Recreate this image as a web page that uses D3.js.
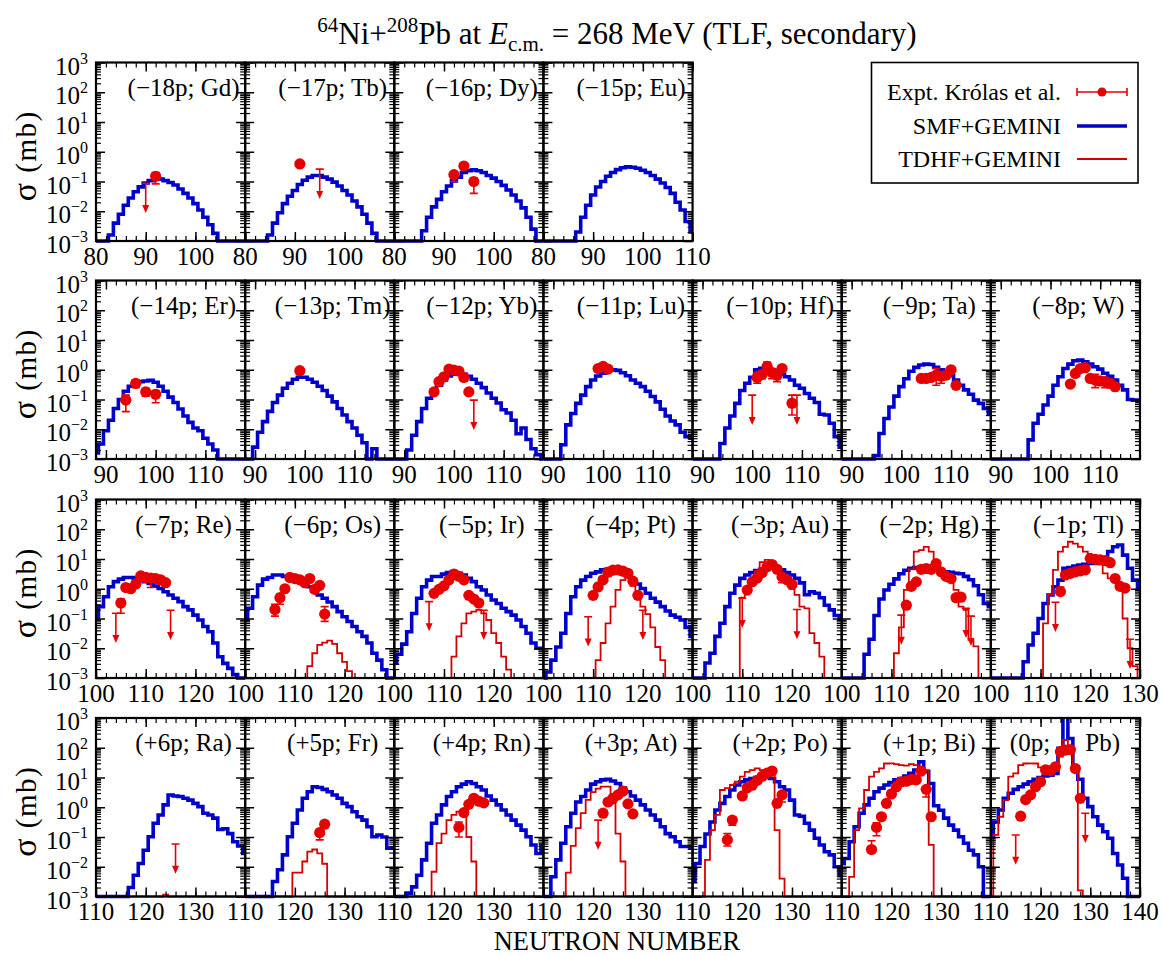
<!DOCTYPE html>
<html><head><meta charset="utf-8">
<script src="https://cdn.jsdelivr.net/npm/d3@7"></script>
<style>
body{margin:0;background:#fff}
svg{display:block}
text{font-family:"Liberation Serif","Times New Roman",serif;fill:#000}
</style></head>
<body><svg id="c" width="1166" height="956"></svg>
<script>
// ---------------- DATA ----------------
const labels = ["(−18p; Gd)","(−17p; Tb)","(−16p; Dy)","(−15p; Eu)",
  "(−14p; Er)","(−13p; Tm)","(−12p; Yb)","(−11p; Lu)","(−10p; Hf)","(−9p; Ta)","(−8p; W)",
  "(−7p; Re)","(−6p; Os)","(−5p; Ir)","(−4p; Pt)","(−3p; Au)","(−2p; Hg)","(−1p; Tl)",
  "(+6p; Ra)","(+5p; Fr)","(+4p; Rn)","(+3p; At)","(+2p; Po)","(+1p; Bi)","(0p;|Pb)"];
const rowDomains = [[80,110],[88,118],[100,130],[110,140]];
const xTicks = [[80,90,100,110],[90,100,110],[100,110,120,130],[110,120,130,140]];
const yTicks = [1e-3,1e-2,1e-1,1,10,100,1000];
const yExp = ["−3","−2","−1","0","1","2","3"];

// SMF+GEMINI histograms (mb), first neutron number then one value per N
const smfStart = [83,85,86,87, 88,90,91,92,94,95,96, 100,100,100,101,103,105,107, 117,116,113,112,110,110,110];
const smf = [
 [1.6e-3,4.0e-3,7.9e-3,0.016,0.028,0.045,0.066,0.089,0.107,0.12,0.12,0.107,0.093,0.076,0.056,0.04,0.028,0.018,0.011,6.3e-3,3.5e-3,1.8e-3],
 [1.6e-3,4.0e-3,8.9e-3,0.018,0.032,0.05,0.079,0.11,0.14,0.16,0.16,0.14,0.12,0.095,0.071,0.05,0.035,0.022,0.014,7.9e-3,4.0e-3,1.8e-3],
 [2.2e-3,6.3e-3,0.014,0.025,0.045,0.071,0.105,0.14,0.2,0.23,0.245,0.23,0.2,0.16,0.13,0.10,0.074,0.052,0.035,0.022,0.013,6.3e-3,2.5e-3],
 [2.0e-3,6.3e-3,0.016,0.035,0.065,0.1,0.15,0.2,0.25,0.29,0.31,0.3,0.28,0.24,0.2,0.16,0.12,0.089,0.063,0.04,0.02,0.011,4.5e-3,2.0e-3],
 [1.6e-3,3.2e-3,8.9e-3,0.02,0.05,0.1,0.19,0.28,0.35,0.4,0.42,0.44,0.38,0.28,0.19,0.12,0.079,0.048,0.028,0.017,0.011,8.9e-3,5.0e-3,3.2e-3,2.0e-3],
 [2.5e-3,7.9e-3,0.018,0.04,0.079,0.14,0.24,0.35,0.48,0.56,0.56,0.48,0.38,0.28,0.2,0.13,0.083,0.05,0.03,0.018,0.011,6.3e-3,3.5e-3,0,2.2e-3],
 [2.0e-3,6.3e-3,0.018,0.05,0.11,0.21,0.30,0.45,0.62,0.71,0.76,0.71,0.6,0.48,0.35,0.25,0.166,0.11,0.076,0.045,0.035,0.02,7.1e-3,0.011,4.5e-3,2.2e-3,1.4e-3],
 [3.0e-3,0.014,0.034,0.074,0.14,0.27,0.45,0.62,0.76,0.93,1.0,0.95,0.79,0.63,0.45,0.35,0.27,0.19,0.126,0.083,0.047,0.028,0.019,0.014,7.9e-3,5.6e-3,5.0e-3],
 [3.3e-3,0.011,0.028,0.074,0.2,0.35,0.56,1.0,1.12,1.12,1.0,0.89,0.71,0.58,0.45,0.3,0.24,0.16,0.11,0.079,0.032,0.03,0.016,5.6e-3,2.5e-3],
 [1.3e-3,7.2e-3,0.023,0.056,0.13,0.27,0.5,0.89,1.2,1.45,1.55,1.5,1.2,1.0,0.89,0.63,0.45,0.3,0.21,0.15,0.095,0.074,0.05,0.032],
 [4.4e-3,0.016,0.032,0.065,0.13,0.3,0.58,1.1,1.55,2.0,2.1,1.86,1.55,1.26,1.05,0.76,0.6,0.45,0.3,0.21,0.1,0.095,0.089],
 [0.1,0.25,0.54,1.17,1.74,2.1,2.4,2.4,2.24,2.0,1.74,1.5,1.23,1.02,0.79,0.62,0.48,0.37,0.25,0.195,0.13,0.089,0.054,0.036,0.015,5.2e-3,3.1e-3,2.1e-3,1.3e-3],
 [0.089,0.22,0.54,1.32,2.1,2.4,2.9,2.9,2.6,2.6,2.0,1.78,1.45,1.17,0.83,0.62,0.48,0.36,0.25,0.17,0.115,0.079,0.054,0.036,0.025,0.015,6.8e-3,4.0e-3,1.9e-3],
 [3.2e-3,6.3e-3,0.0138,0.036,0.148,0.48,1.17,1.95,2.57,2.57,3.1,3.5,3.8,3.3,2.9,2.24,1.74,1.17,0.91,0.62,0.42,0.32,0.22,0.17,0.13,0.089,0.054,0.032,0.015,0.01,0.01],
 [1.6e-3,4.0e-3,0.011,0.032,0.148,0.54,1.17,1.95,2.57,3.3,3.7,4.3,4.5,4.3,3.7,3.3,2.57,1.95,1.45,1.02,0.71,0.48,0.355,0.25,0.178,0.13,0.11,0.089,0.05,0.025],
 [3.2e-3,6.8e-3,0.025,0.069,0.25,0.71,1.32,2.24,2.9,3.5,4.1,4.5,4.9,5.0,5.2,4.3,3.5,2.9,2.24,1.58,0.63,0.79,0.71,0.5,0.28,0.195,0.126,0.1],
 [6.3e-3,0.02,0.126,0.45,0.91,1.41,2.14,3.2,4.2,4.9,5.2,5.5,5.4,5.0,4.6,4.2,3.7,3.55,3.3,3.2,2.6,2.0,1.26,0.63,0.32,0.25],
 [3.5e-3,0.0129,0.032,0.1,0.32,0.62,1.17,1.95,4.9,5.2,5.75,6.3,6.6,7.1,7.1,7.4,9.3,17.8,25.7,29.5,13.5,4.9,1.95,1.0],
 [2.0e-3,5.2e-3,0.0129,0.036,0.102,0.29,0.55,1.2,2.57,2.4,2.3,2.0,1.74,1.35,1.05,0.63,0.55,0.43,0.178,0.19,0.13,0.069,0.05,0.028],
 [3.2e-3,7.9e-3,0.025,0.102,0.29,0.81,2.0,3.3,4.9,4.6,4.0,3.3,2.57,2.0,1.35,1.05,0.71,0.48,0.37,0.22,0.102,0.117,0.1,0.042,0.042],
 [1.3e-3,2.1e-3,5.2e-3,0.017,0.062,0.29,0.55,1.2,2.3,3.3,4.9,6.0,7.2,6.3,4.9,3.8,2.4,1.74,1.2,0.81,0.55,0.37,0.25,0.17,0.102,0.054,0.028,0.054],
 [4.6e-3,0.017,0.062,0.22,0.63,1.5,2.3,3.8,6.0,7.2,8.3,8.7,7.6,6.3,4.4,3.3,2.4,1.74,1.2,0.81,0.55,0.37,0.22,0.13,0.102,0.069,0.048,0.048,0.045],
 [3.2e-3,0.0129,0.048,0.126,0.32,0.81,1.35,2.3,3.8,5.6,7.2,8.3,9.3,10,10,10,9.3,7.2,4.9,3.8,1.74,0.55,0.5,0.29,0.17,0.091,0.054,0.032,0.025,0.01,5.0e-3],
 [0.0126,0.019,0.069,0.22,0.63,1.2,2.0,3.3,4.4,5.6,6.8,8.3,9.3,11.2,13.8,17.8,34,15.8,6.3,1.12,0.79,0.43,0.25,0.17,0.102,0.062,0.036,0.025,0.01],
 [0.102,0.32,0.81,2.0,2.95,4.0,4.9,6.0,7.2,8.7,10,11.2,12,13.8,95,3000,204,23,8.7,2.0,1.05,0.48,0.25,0.15,0.091,0.028,0.0115,4.1e-3]
];

// TDHF+GEMINI histograms (mb); null = not shown
const tdhfStart = [0,0,0,0, 0,0,0,0,0,0,0, 100,113,112,111,110,111,111, 124,120,118,115,113,112,111];
const tdhf = [null,null,null,null, null,null,null,null,null,null,null,
 [],
 [2.5e-3,6.8e-3,0.013,0.0155,0.018,0.014,6.8e-3,3.5e-3,1.7e-3],
 [5.2e-3,0.025,0.069,0.148,0.17,0.195,0.148,0.089,0.032,0.015,5.2e-3,1.9e-3],
 [4.0e-3,0.015,0.069,0.25,0.91,1.95,2.5,1.26,0.5,0.25,0.14,0.05,0.011,4.0e-3],
 [0.5,1.0,2.0,4.0,7.9,9.3,7.1,4.9,2.57,1.74,1.0,0.62,0.25,0.22,0.032,0.015,5.2e-3],
 [6.8e-3,0.05,0.91,4.5,17.8,20,25.7,17.8,8.9,3.7,2.9,1.78,0.91,0.25,0.195,0.019,0.0115],
 [0.069,0.63,4.3,17.8,25.7,38,33,25.7,17.8,12,8.1,7.1,3.3,2.24,2.0,0.91,0.1,0.01,2.5e-3],
 [1.15e-3],
 [6.3e-3,6.3e-3,0.015,0.032,0.038,0.028,0.0126],
 [6.8e-3,0.062,0.13,0.37,0.55,0.71,0.81,0.1,0.015],
 [6.3e-3,0.05,0.2,0.63,1.78,3.2,4.2,4.9,4.9,1.35,0.13,0.015],
 [0.017,0.17,0.55,3.8,4.4,5.6,7.2,10.7,15.5,17.8,20.4,17.8,12.6,14.1,0.17,4.0e-3],
 [4.6e-3,0.17,0.91,3.8,10.7,15.5,20.4,29.5,30,28,26,25,28,26,20,17.8,0.054],
 [0.117,0.48,1.74,10.7,13.8,26,29.5,30,29.5,22,17.8,16.6,22.4,50,182,100,17.8,1.6e-3]
];

// Experiment (Krolas et al.): [N, sigma, errLow, errHigh]
const expt = [
 [[92,0.15,0.083,0.2]],
 [[91,0.39]],
 [[92,0.17,0.1,0.2],[94,0.33,0.3,0.36],[96,0.1,0.04,0.13]],
 [],
 [[94,0.095,0.039,0.14],[96,0.35,0.25,0.45],[98,0.18,0.13,0.24],[100,0.15,0.078,0.2]],
 [[99,0.93]],
 [[96,0.18,0.14,0.22],[97,0.4,0.3,0.5],[98,0.58,0.45,0.7],[99,1.05,0.9,1.2],[100,0.97,0.8,1.1],[101,0.9,0.75,1.05],[102,0.55,0.42,0.7],[103,0.18,0.15,0.21]],
 [[99,1.1,0.95,1.25],[100,1.3,1.15,1.45],[101,1.05,0.9,1.2]],
 [[101,0.55,0.35,0.8],[102,0.7,0.5,0.9],[103,1.3,0.9,1.8],[104,0.8,0.5,1.1],[105,0.65,0.4,0.9],[106,1.1,0.95,1.25],[108,0.075,0.03,0.14]],
 [[104,0.51,0.4,0.62],[105,0.51,0.4,0.62],[106,0.55,0.45,0.7],[107,0.66,0.3,1.1],[108,0.6,0.35,0.85],[109,0.66,0.5,0.8],[110,1.0,0.85,1.15],[111,0.3,0.25,0.35]],
 [[104,0.33,0.28,0.4],[105,0.75,0.6,0.9],[106,1.1,0.9,1.3],[107,1.17,1.0,1.35],[108,0.51,0.4,0.62],[109,0.45,0.25,0.7],[110,0.42,0.3,0.55],[111,0.4,0.25,0.55],[112,0.35,0.25,0.45],[113,0.27,0.2,0.34]],
 [[105,0.33,0.15,0.45],[106,1.1,0.95,1.3],[107,1.0,0.85,1.2],[108,1.45,1.2,1.7],[109,2.7,2.3,3.1],[110,2.4,2.0,2.8],[111,2.3,1.1,3.0],[112,2.2,1.8,2.6],[113,2.0,1.7,2.3],[114,1.6,1.4,1.8]],
 [[106,0.2,0.12,0.3],[107,0.5,0.3,0.65],[108,1.0,0.85,1.15],[109,2.4,2.1,2.7],[110,2.2,1.9,2.5],[111,2.0,1.7,2.3],[112,1.6,1.3,1.9],[113,2.2,1.9,2.5],[114,0.95,0.8,1.1],[115,1.3,1.1,1.5],[116,0.14,0.08,0.25]],
 [[108,0.7,0.6,0.8],[109,0.95,0.8,1.1],[110,1.25,1.05,1.45],[111,2.0,1.7,2.3],[112,3.1,2.7,3.5],[113,2.6,2.2,3.0],[114,2.0,1.7,2.3],[115,0.6,0.5,0.7],[116,0.45,0.38,0.52],[117,0.33,0.28,0.38]],
 [[110,0.6,0.5,0.7],[111,1.15,1.0,1.3],[112,2.0,1.8,2.2],[113,3.6,3.2,4.0],[114,4.2,3.8,4.6],[115,4.3,3.9,4.7],[116,3.9,3.5,4.3],[117,3.3,2.9,3.7],[118,1.8,1.5,2.1],[119,0.6,0.5,0.7]],
 [[111,0.9,0.75,1.05],[112,1.7,1.5,1.9],[113,2.3,2.0,2.6],[114,3.5,3.1,3.9],[115,5.5,4.8,6.2],[116,6.5,5.7,7.3],[117,4.5,3.9,5.1],[118,2.5,1.6,2.9],[119,2.0,1.7,2.3],[120,1.4,1.2,1.6]],
 [[113,0.28,0.22,0.34],[114,1.2,1.0,1.4],[115,1.7,1.45,1.95],[116,4.5,4.0,5.0],[117,4.8,4.2,5.4],[118,4.5,4.0,5.0],[119,7.0,6.2,7.8],[120,3.7,3.3,4.1],[121,2.6,2.3,2.9],[122,2.2,1.9,2.5],[123,0.5,0.43,0.57],[124,0.52,0.45,0.6]],
 [[114,0.8,0.7,1.15],[115,2.9,2.6,3.2],[116,3.3,3.0,3.6],[117,3.7,3.3,4.1],[118,4.0,3.6,4.4],[119,4.3,3.9,4.7],[120,10.5,9.5,11.5],[121,9.7,8.8,10.6],[122,9.3,8.4,10.2],[123,8.8,8.0,9.6],[124,7.5,6.8,8.2],[125,2.2,1.9,2.5],[126,1.2,1.05,1.35],[127,1.05,0.9,1.2]],
 [],
 [[125,0.14,0.08,0.18],[126,0.27,0.23,0.31]],
 [[123,0.21,0.1,0.32],[124,0.66,0.55,0.77],[125,1.25,1.05,1.45],[126,2.0,1.7,2.3],[127,1.6,1.4,1.8],[128,1.4,1.2,1.6]],
 [[122,0.63,0.55,0.72],[123,1.5,1.3,1.7],[124,2.0,1.8,2.2],[125,2.6,2.3,2.9],[126,3.5,3.1,3.9],[127,1.3,1.1,1.5],[128,0.6,0.5,0.7]],
 [[117,0.08,0.05,0.13],[118,0.37,0.25,0.45],[120,2.4,2.1,2.7],[121,4.5,4.0,5.0],[122,5.5,4.9,6.1],[123,8.0,7.2,8.8],[124,11,10,12],[125,14,12.5,15.5],[126,16.5,15,18],[127,1.35,1.2,1.5],[128,2.6,1.5,2.9]],
 [[116,0.038,0.03,0.075],[117,0.21,0.11,0.3],[118,0.48,0.4,0.56],[119,1.35,1.2,1.5],[120,2.8,2.5,3.1],[121,4.9,4.4,5.4],[122,7.2,6.5,7.9],[123,7.5,6.8,8.2],[124,8.6,7.8,9.4],[125,8.3,7.5,9.1],[126,16.5,15,18],[127,4.0,2.2,4.6],[128,0.48,0.42,0.54]],
 [[116,0.5,0.42,0.58],[117,1.8,1.6,2.0],[118,2.6,2.3,2.9],[119,4.9,4.4,5.4],[120,7.2,6.5,7.9],[121,18,16,20],[122,17,15,19],[123,23,20.5,25.5],[124,74,66,82],[125,83,74,92],[126,87,78,96],[127,20,18,22],[128,2.0,1.8,2.2]]
];

// Experimental upper limits: [N, sigma]
const upperLimits = [
 [[90,0.087]],[[95,0.26]],[],[],
 [],[],[[104,0.095]],[],[[100,0.14],[109,0.14]],[],[],
 [[104,0.15],[115,0.19]],[],[[107,0.37],[118,0.19]],[[109,0.115],[120,0.19]],[[110,0.48],[121,0.2]],[[112,0.13],[125,0.22],[126,0.12]],[[113,0.35],[128,0.02]],
 [[126,0.058]],[],[],[[121,0.37]],[],[],[[115,0.117],[129,0.63]]
];

// ---------------- LAYOUT ----------------
const rowCounts = [4,7,7,7];
const rowTop = [62.5,280.5,499.5,718];
const panelW = 149.14, plotH = 178.5, left0 = 96;
const BLUE = "#0000cc", RED = "#d40000", PT = "#e60000";
const svg = d3.select("#c");
const defs = svg.append("defs");

// title
const title = svg.append("text").attr("x",617).attr("y",44).attr("text-anchor","middle").attr("font-size",31);
title.append("tspan").attr("font-size",21).attr("dy",-12).text("64");
title.append("tspan").attr("dy",12).text("Ni+");
title.append("tspan").attr("font-size",21).attr("dy",-12).text("208");
title.append("tspan").attr("dy",12).text("Pb at ");
title.append("tspan").attr("font-style","italic").text("E");
title.append("tspan").attr("font-size",21).attr("dy",7).text("c.m.");
title.append("tspan").attr("dy",-7).text(" = 268 MeV (TLF, secondary)");

// x label
svg.append("text").attr("x",617).attr("y",950).attr("text-anchor","middle").attr("font-size",26.5).text("NEUTRON NUMBER");

let p = 0;
rowCounts.forEach((nc, row) => {
  const top = rowTop[row];
  const dom = rowDomains[row];
  const y = d3.scaleLog().domain([1e-3,1e3]).range([top+plotH, top]);
  // y label
  const yl = svg.append("text").attr("transform",`translate(36,${top+plotH/2+4}) rotate(-90)`)
    .attr("text-anchor","middle").attr("font-size",29).attr("letter-spacing",1.5);
  yl.append("tspan").attr("font-size",34).text("σ");
  yl.append("tspan").text(" (mb)");
  for (let c = 0; c < nc; c++, p++) {
    const x0 = left0 + c*panelW;
    const x = d3.scaleLinear().domain(dom).range([x0, x0+panelW]);
    const g = svg.append("g");
    defs.append("clipPath").attr("id","cp"+p).append("rect")
      .attr("x",x0).attr("y",top).attr("width",panelW).attr("height",plotH+3);
    const plot = g.append("g").attr("clip-path",`url(#cp${p})`);
    const Ns = d3.range(dom[0], dom[1]+1);
    const line = d3.line().x(d=>x(d[0])).y(d=>y(Math.max(d[1],1e-3))).curve(d3.curveStep);
    const series = (start, vals) => Ns.map(n => [n, (n>=start && n-start<vals.length) ? vals[n-start] : 0]);
    plot.append("path").datum(series(smfStart[p], smf[p])).attr("d",line)
      .attr("fill","none").attr("stroke",BLUE).attr("stroke-width",3.6).attr("stroke-linejoin","miter");
    if (tdhf[p]) {
      plot.append("path").datum(series(tdhfStart[p], tdhf[p])).attr("d",line)
        .attr("fill","none").attr("stroke",RED).attr("stroke-width",1.8);
    }
    // upper limits
    upperLimits[p].forEach(([n,v]) => {
      const xx = x(n), yt = y(v), yb = y(v/10);
      plot.append("line").attr("x1",xx).attr("x2",xx).attr("y1",yt).attr("y2",yb-6).attr("stroke",PT).attr("stroke-width",1.6);
      plot.append("line").attr("x1",xx-4).attr("x2",xx+4).attr("y1",yt).attr("y2",yt).attr("stroke",PT).attr("stroke-width",1.6);
      plot.append("path").attr("d",`M${xx-3.5},${yb-8}L${xx+3.5},${yb-8}L${xx},${yb}Z`).attr("fill",PT);
    });
    // expt points
    expt[p].forEach(d => {
      const xx = x(d[0]);
      if (d.length > 2) {
        plot.append("line").attr("x1",xx).attr("x2",xx).attr("y1",y(d[2])).attr("y2",y(d[3])).attr("stroke",PT).attr("stroke-width",1.6);
        [d[2],d[3]].forEach(v => plot.append("line").attr("x1",xx-4).attr("x2",xx+4).attr("y1",y(v)).attr("y2",y(v)).attr("stroke",PT).attr("stroke-width",1.6));
      }
      plot.append("circle").attr("cx",xx).attr("cy",y(d[1])).attr("r",5.6).attr("fill",PT);
    });
    // axes (ticks inward)
    const minorY = [];
    for (let e=-3; e<3; e++) for (let m=2; m<=9; m++) minorY.push(m*Math.pow(10,e));
    const majX = d3.range(Math.ceil(dom[0]/10)*10, dom[1]+0.01, 10);
    const minX = d3.range(Math.ceil(dom[0]/2)*2, dom[1]+0.01, 2);
    const mk = (axis, tr, w) => {
      const a = g.append("g").attr("transform",tr).call(axis);
      a.select(".domain").remove();
      a.selectAll("text").remove();
      a.selectAll("line").attr("stroke","#000").attr("stroke-width",w);
    };
    mk(d3.axisLeft(y).tickValues(yTicks).tickSize(-9), `translate(${x0},0)`, 1.5);
    mk(d3.axisLeft(y).tickValues(minorY).tickSize(-5), `translate(${x0},0)`, 1.2);
    mk(d3.axisRight(y).tickValues(yTicks).tickSize(-9), `translate(${x0+panelW},0)`, 1.5);
    mk(d3.axisRight(y).tickValues(minorY).tickSize(-5), `translate(${x0+panelW},0)`, 1.2);
    mk(d3.axisBottom(x).tickValues(majX).tickSize(-9), `translate(0,${top+plotH})`, 1.5);
    mk(d3.axisBottom(x).tickValues(minX).tickSize(-5), `translate(0,${top+plotH})`, 1.2);
    mk(d3.axisTop(x).tickValues(majX).tickSize(-9), `translate(0,${top})`, 1.5);
    mk(d3.axisTop(x).tickValues(minX).tickSize(-5), `translate(0,${top})`, 1.2);
    g.append("rect").attr("x",x0).attr("y",top).attr("width",panelW).attr("height",plotH)
      .attr("fill","none").attr("stroke","#000").attr("stroke-width",2.2);
    // x tick labels
    xTicks[row].forEach(v => {
      if (v >= dom[1] && c < nc-1) return;
      g.append("text").attr("x",x(v)).attr("y",top+plotH+23.5).attr("text-anchor","middle").attr("font-size",25).text(v);
    });
    // y tick labels
    if (c === 0) {
      yTicks.forEach((v,i) => {
        const t = g.append("text").attr("x",x0-8).attr("y",y(v)+12).attr("text-anchor","end").attr("font-size",25);
        t.append("tspan").text("10");
        t.append("tspan").attr("font-size",16).attr("dy",-11).text(yExp[i]);
      });
    }
    // panel label
    const lab = labels[p];
    if (lab.includes("|")) {
      const [a,b] = lab.split("|");
      g.append("text").attr("x",x0+19).attr("y",top+33).attr("font-size",25).text(a);
      g.append("text").attr("x",x0+panelW-20).attr("y",top+33).attr("text-anchor","end").attr("font-size",25).text(b);
    } else {
      g.append("text").attr("x",x0+panelW/2+13).attr("y",top+33).attr("text-anchor","middle").attr("font-size",25).text(lab);
    }
  }
});

// legend
const lg = svg.append("g");
lg.append("rect").attr("x",871.5).attr("y",62.5).attr("width",266.5).attr("height",120.5).attr("fill","#fff").attr("stroke","#000").attr("stroke-width",1.6);
const legRows = [["Expt. Królas et al.",92],["SMF+GEMINI",126],["TDHF+GEMINI",159]];
legRows.forEach(([t,yy]) => lg.append("text").attr("x",1061).attr("y",yy+8).attr("text-anchor","end").attr("font-size",24).text(t));
lg.append("line").attr("x1",1077).attr("x2",1127).attr("y1",92).attr("y2",92).attr("stroke",PT).attr("stroke-width",1.6);
[1077,1127].forEach(xx => lg.append("line").attr("x1",xx).attr("x2",xx).attr("y1",88).attr("y2",96).attr("stroke",PT).attr("stroke-width",1.6));
lg.append("circle").attr("cx",1102).attr("cy",92).attr("r",4.5).attr("fill",PT);
lg.append("line").attr("x1",1077).attr("x2",1127).attr("y1",126).attr("y2",126).attr("stroke",BLUE).attr("stroke-width",3.6);
lg.append("line").attr("x1",1077).attr("x2",1127).attr("y1",159).attr("y2",159).attr("stroke",RED).attr("stroke-width",1.8);
</script></body></html>
